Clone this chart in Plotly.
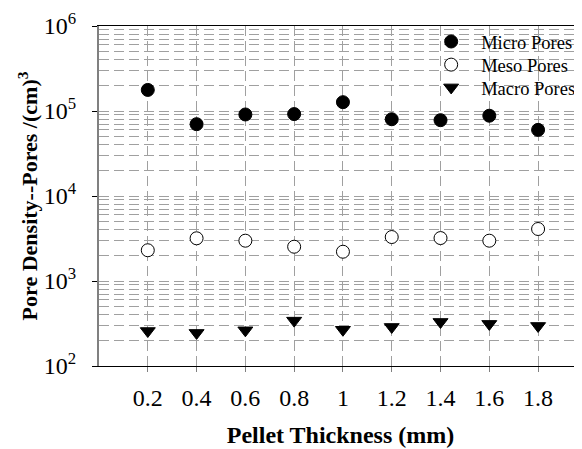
import plotly.graph_objects as go

thickness = [0.2, 0.4, 0.6, 0.8, 1.0, 1.2, 1.4, 1.6, 1.8]
micro = [177000, 70000, 91000, 92000, 127000, 80000, 78000, 88000, 60000]
meso = [2300, 3180, 2980, 2530, 2210, 3290, 3200, 2980, 4090]
macro = [258, 245, 263, 342, 267, 288, 330, 313, 296]

x_tick_vals = [0.2, 0.4, 0.6, 0.8, 1.0, 1.2, 1.4, 1.6, 1.8]
x_tick_text = ["0.2", "0.4", "0.6", "0.8", "1", "1.2", "1.4", "1.6", "1.8"]
y_tick_vals = [1e2, 1e3, 1e4, 1e5, 1e6]
y_tick_text = ["10<sup>2</sup>", "10<sup>3</sup>", "10<sup>4</sup>", "10<sup>5</sup>", "10<sup>6</sup>"]
y_minor_vals = [m * 10 ** e for e in range(2, 6) for m in range(2, 10)]

FONT = "Liberation Serif, Times New Roman, serif"
GRID = "#a0a0a0"
DASH = "10px,5px"

fig = go.Figure()
fig.add_trace(go.Scatter(x=thickness, y=micro, mode="markers", name="Micro Pores",
                         legend="legend",
                         marker=dict(symbol="circle", size=13, color="black",
                                     line=dict(color="black", width=1))))
fig.add_trace(go.Scatter(x=thickness, y=meso, mode="markers", name="Meso Pores",
                         legend="legend2",
                         marker=dict(symbol="circle", size=13, color="white",
                                     line=dict(color="black", width=1))))
fig.add_trace(go.Scatter(x=thickness, y=macro, mode="markers", name="Macro Pores",
                         legend="legend3",
                         marker=dict(symbol="triangle-down", size=13, color="black",
                                     line=dict(color="black", width=1))))

leg_common = dict(x=0.667, xanchor="left", yanchor="middle",
                  bgcolor="rgba(0,0,0,0)", font=dict(size=18.5, family=FONT),
                  itemwidth=50, borderwidth=0)

fig.update_layout(
    width=574, height=441,
    margin=dict(l=91, r=0, t=18, b=83, autoexpand=False),
    paper_bgcolor="white", plot_bgcolor="white",
    font=dict(family=FONT, color="black", size=24),
    showlegend=True,
    legend=dict(y=0.953, **leg_common),
    legend2=dict(y=0.885, **leg_common),
    legend3=dict(y=0.818, **leg_common),
    xaxis=dict(
        range=[0, 1.98], tickmode="array", tickvals=x_tick_vals, ticktext=x_tick_text,
        showgrid=True, gridcolor=GRID, griddash=DASH, gridwidth=1,
        zeroline=False, showline=True, linecolor="black", linewidth=1, mirror=True,
        ticks="outside", ticklen=5, tickcolor="#808080",
        ticklabelstandoff=5, automargin=False,
        tickfont=dict(size=24, family=FONT),
        title=dict(text="<b>Pellet Thickness (mm)</b>", font=dict(size=24, family=FONT), standoff=16),
    ),
    yaxis=dict(
        type="log", range=[2, 6], tickmode="array", tickvals=y_tick_vals, ticktext=y_tick_text,
        showgrid=True, gridcolor=GRID, griddash=DASH, gridwidth=1,
        minor=dict(tickvals=y_minor_vals, showgrid=True, gridcolor=GRID, griddash=DASH,
                   gridwidth=1, ticks=""),
        zeroline=False, showline=True, linecolor="#808080", linewidth=2,
        ticks="outside", ticklen=5, tickcolor="black",
        ticklabelstandoff=11, automargin=False,
        tickfont=dict(size=24, family=FONT),
        title=dict(text="<b>Pore Density--Pores /(cm)<sup>3</sup></b>" + "\u00a0" * 7,
                   font=dict(size=22, family=FONT), standoff=0),
    ),
)

fig.write_html("out.html")
